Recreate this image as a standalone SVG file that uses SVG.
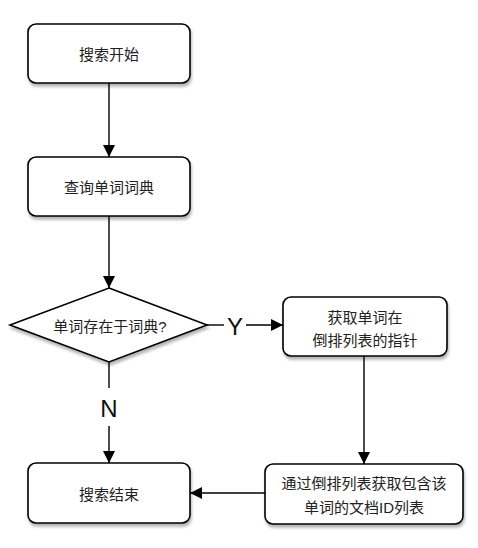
<svg xmlns="http://www.w3.org/2000/svg" width="478" height="548" viewBox="0 0 478 548">
<defs>
<marker id="ah" viewBox="0 0 12 12" refX="12" refY="6" markerWidth="12" markerHeight="12" markerUnits="userSpaceOnUse" orient="auto">
<path d="M0,0 L12,6 L0,12 z" fill="#000"/>
</marker>
<filter id="sh" x="-10%" y="-10%" width="130%" height="140%">
<feGaussianBlur in="SourceAlpha" stdDeviation="1.5"/>
<feOffset dx="1" dy="3" result="b"/>
<feComponentTransfer><feFuncA type="linear" slope="0.3"/></feComponentTransfer>
<feMerge><feMergeNode/><feMergeNode in="SourceGraphic"/></feMerge>
</filter>
</defs>
<style>
.box{fill:#fff;stroke:#000;stroke-width:1.6;filter:url(#sh)}
.t{font-family:"Liberation Sans","Noto Sans CJK SC",sans-serif;font-size:15px;fill:#222;text-anchor:middle;dominant-baseline:central}
.lbl{font-family:"Liberation Sans",Arial,sans-serif;font-size:24px;fill:#111;text-anchor:middle;dominant-baseline:central}
.c{stroke:#000;stroke-width:1.4;fill:none}
</style>
<rect width="478" height="548" fill="#fff"/>
<g id="start"><rect class="box" x="28" y="24" width="162" height="59" rx="8"/><text class="t" x="109" y="54">搜索开始</text></g>
<g id="lookup"><rect class="box" x="28" y="157" width="162" height="59" rx="8"/><text class="t" x="109" y="187">查询单词词典</text></g>
<g id="decision"><polygon class="box" points="109,288 207,325 109,362 10,325"/><text class="t" x="110" y="326">单词存在于词典?</text></g>
<g id="getptr"><rect class="box" x="283" y="297" width="164" height="59" rx="8"/><text class="t" x="365" y="317">获取单词在</text><text class="t" x="365" y="340">倒排列表的指针</text></g>
<g id="getlist"><rect class="box" x="265" y="464" width="198" height="60" rx="8"/><text class="t" x="364" y="483">通过倒排列表获取包含该</text><text class="t" x="364" y="507">单词的文档ID列表</text></g>
<g id="end"><rect class="box" x="28" y="463" width="162" height="60" rx="8"/><text class="t" x="109" y="494">搜索结束</text></g>
<g id="connectors">
<line class="c" x1="109" y1="83" x2="109" y2="157" marker-end="url(#ah)"/>
<line class="c" x1="109" y1="216" x2="109" y2="288" marker-end="url(#ah)"/>
<line class="c" x1="207" y1="325" x2="224" y2="325"/>
<line class="c" x1="246" y1="325" x2="283" y2="325" marker-end="url(#ah)"/>
<text class="lbl" x="235" y="326">Y</text>
<line class="c" x1="109" y1="362" x2="109" y2="388"/>
<line class="c" x1="109" y1="426" x2="109" y2="463" marker-end="url(#ah)"/>
<text class="lbl" x="109" y="408">N</text>
<line class="c" x1="364" y1="356" x2="364" y2="464" marker-end="url(#ah)"/>
<line class="c" x1="265" y1="493" x2="190" y2="493" marker-end="url(#ah)"/>
</g>
</svg>
